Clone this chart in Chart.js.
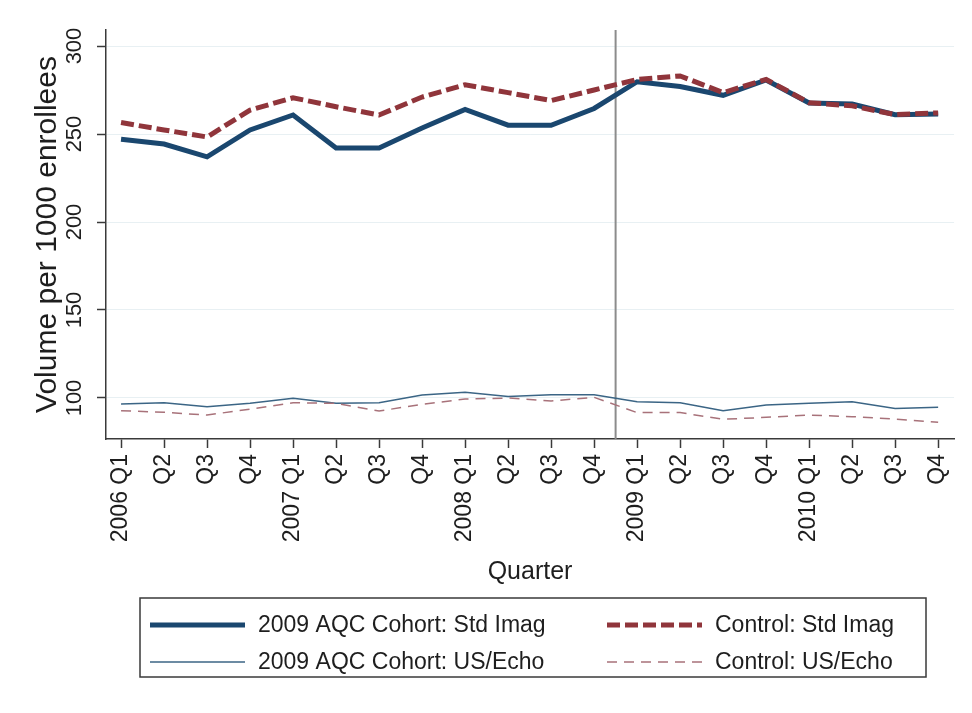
<!DOCTYPE html>
<html lang="en">
<head>
    <meta charset="UTF-8">
    <title>Imaging volume per 1000 enrollees by quarter</title>
    <script src="https://cdn.jsdelivr.net/npm/chart.js@4.4.1/dist/chart.umd.min.js"></script>
    <style>
        body {
            margin: 0;
            padding: 0;
            background-color: #ffffff;
        }

        .chart-wrap {
            width: 972px;
            height: 713px;
        }
    </style>
</head>
<body>
    <div class="chart-wrap">
        <canvas id="volumeChart" width="972" height="713"></canvas>
    </div>

    <script>
        // Quarter labels (first quarter of each year carries the year)
        const quarterLabels = [
            '2006 Q1', 'Q2', 'Q3', 'Q4',
            '2007 Q1', 'Q2', 'Q3', 'Q4',
            '2008 Q1', 'Q2', 'Q3', 'Q4',
            '2009 Q1', 'Q2', 'Q3', 'Q4',
            '2010 Q1', 'Q2', 'Q3', 'Q4'
        ];

        const yTickValues = [100, 150, 200, 250, 300];

        // Volume per 1000 enrollees
        const cohortStdImag = [247, 244.3, 237, 252.3, 260.8, 242, 242, 253.4, 264, 255, 255, 264.5, 279.7, 277, 272, 280.7, 267.6, 267, 261, 261.4];
        const controlStdImag = [256.5, 252.3, 248.3, 263.6, 270.6, 265.5, 260.8, 271, 278, 273.5, 269, 275, 281, 283, 273.5, 281, 267.8, 266, 261, 262];
        const cohortUsEcho = [96.6, 97.3, 95, 97, 99.8, 97, 97.3, 101.7, 103.2, 100.8, 101.9, 101.9, 97.9, 97.3, 92.8, 96, 97, 97.9, 94.1, 94.7];
        const controlUsEcho = [92.8, 91.9, 90.3, 93.7, 97.3, 97, 92.6, 96.4, 99.4, 100, 98.3, 100.4, 91.7, 91.7, 87.9, 89, 90.3, 89.4, 88, 86.2];

        // AQC program start falls between 2008 Q4 and 2009 Q1
        const programStart = 11.5;

        const toPoints = values => values.map((v, i) => ({ x: i, y: v }));

        const navy = '#1a476f';
        const maroon = '#90353b';
        const fontFamily = '"Liberation Sans", Arial, sans-serif';

        // Vertical reference line at program start
        const startLine = {
            id: 'startLine',
            beforeDatasetsDraw(chart) {
                const { ctx, chartArea, scales } = chart;
                const x = scales.x.getPixelForValue(programStart);
                ctx.save();
                ctx.strokeStyle = '#8c8c8c';
                ctx.lineWidth = 2;
                ctx.beginPath();
                ctx.moveTo(x, chartArea.top);
                ctx.lineTo(x, chartArea.bottom);
                ctx.stroke();
                ctx.restore();
            }
        };

        // Boxed two-column legend under the axis title
        const boxedLegend = {
            id: 'boxedLegend',
            afterDraw(chart) {
                const ctx = chart.ctx;
                const box = { left: 140, top: 598, right: 926, bottom: 677 };
                const cols = [150, 607];
                const rows = [625, 662];
                ctx.save();
                ctx.strokeStyle = '#3a3a3a';
                ctx.lineWidth = 1.5;
                ctx.strokeRect(box.left, box.top, box.right - box.left, box.bottom - box.top);
                chart.data.datasets.forEach((ds, i) => {
                    const x = cols[i % 2];
                    const y = rows[Math.floor(i / 2)];
                    ctx.setLineDash(ds.borderDash || []);
                    ctx.strokeStyle = ds.borderColor;
                    ctx.lineWidth = ds.borderWidth;
                    ctx.beginPath();
                    ctx.moveTo(x, y);
                    ctx.lineTo(x + 95, y);
                    ctx.stroke();
                    ctx.setLineDash([]);
                    ctx.fillStyle = '#1e1e1e';
                    ctx.font = '23px ' + fontFamily;
                    ctx.textBaseline = 'middle';
                    ctx.textAlign = 'left';
                    ctx.fillText(ds.label, x + 108, y + 1);
                });
                ctx.restore();
            }
        };

        const ctx = document.getElementById('volumeChart').getContext('2d');

        new Chart(ctx, {
            type: 'line',
            data: {
                datasets: [
                    {
                        label: '2009 AQC Cohort: Std Imag',
                        data: toPoints(cohortStdImag),
                        borderColor: navy,
                        borderWidth: 5,
                        order: 1
                    },
                    {
                        label: 'Control: Std Imag',
                        data: toPoints(controlStdImag),
                        borderColor: maroon,
                        borderWidth: 5,
                        borderDash: [13, 5],
                        order: 0
                    },
                    {
                        label: '2009 AQC Cohort: US/Echo',
                        data: toPoints(cohortUsEcho),
                        borderColor: '#3b6585',
                        borderWidth: 1.5,
                        order: 3
                    },
                    {
                        label: 'Control: US/Echo',
                        data: toPoints(controlUsEcho),
                        borderColor: '#a8727a',
                        borderWidth: 1.5,
                        borderDash: [10, 7],
                        order: 2
                    }
                ]
            },
            options: {
                responsive: false,
                animation: false,
                layout: {
                    padding: { top: 30, right: 14, bottom: 124, left: 0 }
                },
                elements: {
                    point: { radius: 0 },
                    line: { tension: 0, fill: false, borderCapStyle: 'butt' }
                },
                plugins: {
                    legend: { display: false },
                    tooltip: { enabled: false }
                },
                scales: {
                    x: {
                        type: 'linear',
                        min: -0.35,
                        max: 19.37,
                        afterBuildTicks: scale => {
                            scale.ticks = quarterLabels.map((_, i) => ({ value: i }));
                        },
                        afterFit: scale => {
                            scale.height = 150;
                        },
                        ticks: {
                            autoSkip: false,
                            minRotation: 90,
                            maxRotation: 90,
                            padding: 6,
                            color: '#1e1e1e',
                            font: { family: fontFamily, size: 23 },
                            callback: value => quarterLabels[value]
                        },
                        grid: {
                            drawOnChartArea: false,
                            drawTicks: true,
                            tickLength: 9,
                            tickColor: '#3a3a3a',
                            tickWidth: 1.5
                        },
                        border: { color: '#3a3a3a', width: 1.5 },
                        title: {
                            display: true,
                            text: 'Quarter',
                            color: '#1e1e1e',
                            font: { family: fontFamily, size: 25 },
                            padding: { top: 4, bottom: 2 }
                        }
                    },
                    y: {
                        min: 76.7,
                        max: 309.1,
                        afterBuildTicks: scale => {
                            scale.ticks = yTickValues.map(v => ({ value: v }));
                        },
                        afterFit: scale => {
                            scale.width = 106;
                        },
                        ticks: {
                            minRotation: 90,
                            maxRotation: 90,
                            crossAlign: 'center',
                            padding: 4,
                            color: '#1e1e1e',
                            font: { family: fontFamily, size: 22 }
                        },
                        grid: {
                            color: 'rgba(214, 228, 234, 0.55)',
                            lineWidth: 1,
                            drawTicks: true,
                            tickLength: 9,
                            tickColor: '#3a3a3a',
                            tickWidth: 1.5
                        },
                        border: { color: '#3a3a3a', width: 1.5 },
                        title: {
                            display: true,
                            text: 'Volume per 1000 enrollees',
                            color: '#1e1e1e',
                            font: { family: fontFamily, size: 30 },
                            padding: { top: 30, bottom: 0 }
                        }
                    }
                }
            },
            plugins: [startLine, boxedLegend]
        });
    </script>
</body>
</html>
